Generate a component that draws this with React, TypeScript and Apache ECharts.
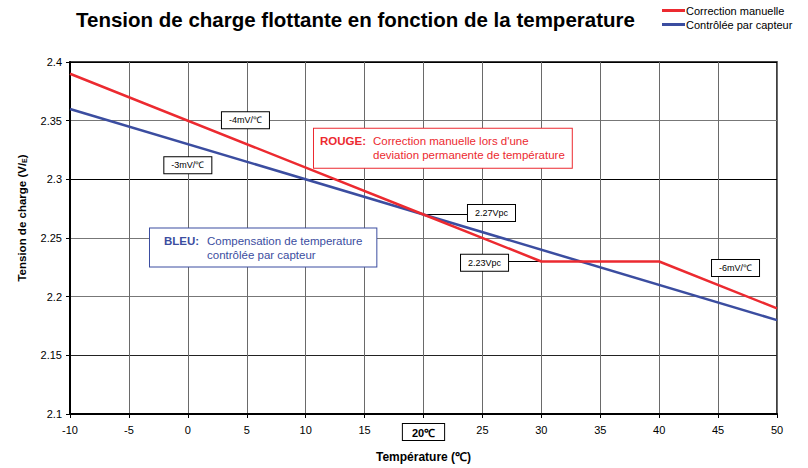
import React, { useEffect, useRef } from "react";
import * as echarts from "echarts";

// ---- data ----
const redTemps = [-10, 20, 30, 40, 50];
const redVolts = [2.39, 2.27, 2.23, 2.23, 2.19];
const blueTemps = [-10, 50];
const blueVolts = [2.36, 2.18];
const xTicks = [-10, -5, 0, 5, 10, 15, 20, 25, 30, 35, 40, 45, 50];
const yTicks = [2.1, 2.15, 2.2, 2.25, 2.3, 2.35, 2.4];
const seriesNames = ["Correction manuelle", "Contrôlée par capteur"];

const RED = "#ec2a30";
const BLUE = "#3b4da0";
const FONT = "'Liberation Sans', Arial, sans-serif";

const smallBox = (text: string, coord: number[]) => ({
  coord,
  symbol: "rect",
  symbolSize: 1,
  itemStyle: { color: "rgba(0,0,0,0)" },
  label: {
    show: true,
    position: "inside",
    formatter: text,
    color: "#000",
    fontSize: 9,
    fontFamily: FONT,
    backgroundColor: "#fff",
    borderColor: "#000",
    borderWidth: 1,
    padding: [4, 7, 3, 7],
  },
});

export default function App() {
  const ref = useRef<HTMLDivElement>(null);
  useEffect(() => {
    if (!ref.current) return;
    const chart = echarts.init(ref.current, undefined, { renderer: "svg" });
    chart.setOption({
      animation: false,
      textStyle: { fontFamily: FONT },
      title: {
        text: "Tension de charge flottante en fonction de la temperature",
        left: 71,
        top: 4,
        textStyle: { fontSize: 20.5, fontWeight: "bold", color: "#000", fontFamily: FONT },
      },
      legend: {
        orient: "vertical",
        left: 657,
        top: 0,
        itemGap: 3,
        itemWidth: 23,
        itemHeight: 3,
        icon: "rect",
        textStyle: { fontSize: 11, color: "#000", fontFamily: FONT, padding: [0, 0, 0, -4] },
        data: seriesNames,
      },
      graphic: [
        {
          type: "text",
          x: 22,
          y: 218,
          rotation: Math.PI / 2,
          style: {
            text: "{a|Tension de charge (V/}{s|E}{a|)}",
            align: "center",
            verticalAlign: "middle",
            rich: {
              a: { fontSize: 11.5, fontWeight: "bold", fill: "#000", fontFamily: FONT },
              s: { fontSize: 7, fontWeight: "bold", fill: "#000", fontFamily: FONT, padding: [4, 0, 0, 0] },
            },
          },
        },
      ],
      grid: {
        left: 70,
        right: 31,
        top: 62,
        bottom: 53,
        show: true,
        borderColor: "#000",
        borderWidth: 1.5,
        backgroundColor: "transparent",
      },
      xAxis: {
        type: "value",
        min: -10,
        max: 50,
        interval: 5,
        name: "Température (℃)",
        nameLocation: "middle",
        nameGap: 37,
        nameTextStyle: { fontSize: 12, fontWeight: "bold", color: "#000", fontFamily: FONT },
        axisLine: { show: true, onZero: false, lineStyle: { color: "#000", width: 2 } },
        axisTick: { show: true, length: 4, lineStyle: { color: "#000" } },
        axisLabel: {
          margin: 10,
          fontSize: 11,
          color: "#000",
          customValues: xTicks,
          formatter: (v: number) => (v === 20 ? "{box|20℃}" : String(v)),
          rich: {
            box: {
              fontSize: 11,
              fontWeight: "bold",
              color: "#000",
              borderColor: "#000",
              borderWidth: 1,
              padding: [3, 9, 2, 9],
              backgroundColor: "#fff",
            },
          },
        },
        splitLine: { show: true, lineStyle: { color: "#6a6a6a", width: 1 } },
      },
      yAxis: {
        type: "value",
        min: 2.1,
        max: 2.4,
        interval: 0.05,
        axisLine: { show: true, onZero: false, lineStyle: { color: "#000", width: 2 } },
        axisTick: { show: true, length: 4, lineStyle: { color: "#000" } },
        axisLabel: {
          margin: 8,
          fontSize: 11,
          color: "#000",
          customValues: yTicks,
          formatter: (v: number) => String(Math.round(v * 100) / 100),
        },
        splitLine: {
          show: true,
          lineStyle: { color: ["#000", "#222", "#777", "#777", "#000", "#777", "#000"], width: 1 },
        },
      },
      series: [
        {
          name: seriesNames[0],
          type: "line",
          data: redTemps.map((t, i) => [t, redVolts[i]]),
          showSymbol: false,
          symbol: "none",
          lineStyle: { color: RED, width: 2.5 },
          itemStyle: { color: RED },
          z: 4,
          markLine: {
            silent: true,
            symbol: "none",
            label: { show: false },
            lineStyle: { color: "#000", width: 1, type: "solid" },
            z: 3,
            data: [
              [{ coord: [20, 2.27] }, { coord: [23.8, 2.27] }],
              [{ coord: [27.2, 2.23] }, { coord: [30, 2.23] }],
            ],
          },
          markPoint: {
            silent: true,
            z: 6,
            data: [
              smallBox("-4mV/℃", [4.89, 2.3503]),
              smallBox("-3mV/℃", [0.0, 2.312]),
              smallBox("2.27Vpc", [25.77, 2.2713]),
              smallBox("2.23Vpc", [25.18, 2.2288]),
              smallBox("-6mV/℃", [46.48, 2.2245]),
              {
                coord: [10.707, 2.3265],
                symbol: "rect",
                symbolSize: 1,
                itemStyle: { color: "rgba(0,0,0,0)" },
                label: {
                  show: true,
                  position: "inside",
                  align: "left",
                  verticalAlign: "middle",
                  formatter:
                    "{b|ROUGE:}{t|Correction manuelle lors d'une}\n{p|}{t|deviation permanente de température}",
                  backgroundColor: "#fff",
                  borderColor: RED,
                  borderWidth: 1,
                  padding: [6, 7, 6, 6],
                  rich: {
                    b: { fontSize: 11.5, fontWeight: "bold", color: RED, width: 53, lineHeight: 13.5, fontFamily: FONT },
                    p: { width: 53, lineHeight: 13.5 },
                    t: { fontSize: 11.5, color: RED, lineHeight: 13.5, fontFamily: FONT },
                  },
                },
              },
              {
                coord: [-3.211, 2.2419],
                symbol: "rect",
                symbolSize: 1,
                itemStyle: { color: "rgba(0,0,0,0)" },
                label: {
                  show: true,
                  position: "inside",
                  align: "left",
                  verticalAlign: "middle",
                  formatter:
                    "{b|BLEU:}{t|Compensation de temperature}\n{p|}{t|contrôlée par capteur}",
                  backgroundColor: "#fff",
                  borderColor: BLUE,
                  borderWidth: 1,
                  padding: [5, 14, 5, 14],
                  rich: {
                    b: { fontSize: 11.5, fontWeight: "bold", color: BLUE, width: 43, lineHeight: 14, fontFamily: FONT },
                    p: { width: 43, lineHeight: 14 },
                    t: { fontSize: 11.5, color: BLUE, lineHeight: 14, fontFamily: FONT },
                  },
                },
              },
            ],
          },
        },
        {
          name: seriesNames[1],
          type: "line",
          data: blueTemps.map((t, i) => [t, blueVolts[i]]),
          showSymbol: false,
          symbol: "none",
          lineStyle: { color: BLUE, width: 2.5 },
          itemStyle: { color: BLUE },
          z: 3,
        },
      ],
    });
    return () => chart.dispose();
  }, []);
  return <div ref={ref} style={{ width: 808, height: 468, position: "absolute", left: 0, top: 0 }} />;
}
